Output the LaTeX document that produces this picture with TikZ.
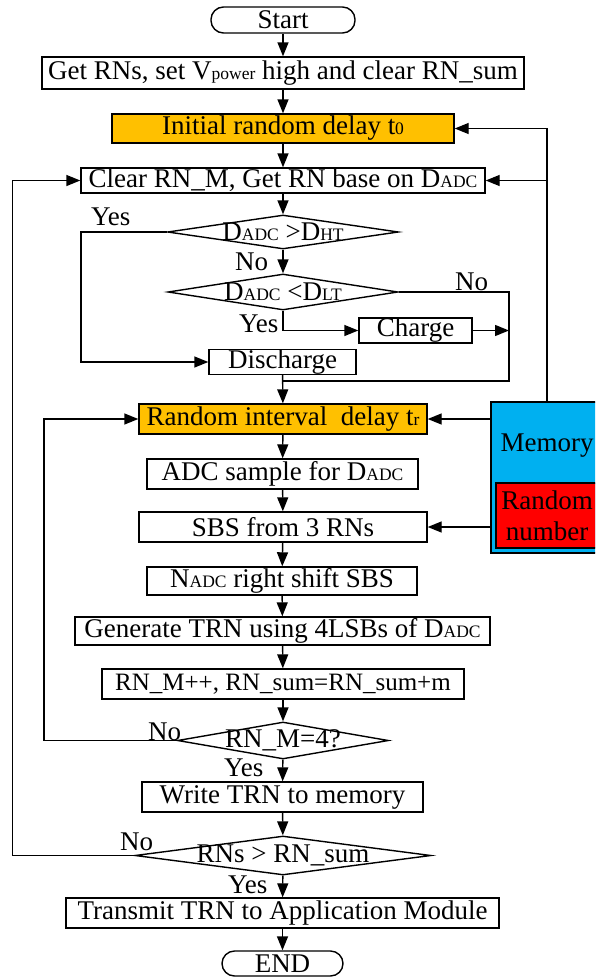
\documentclass[tikz,border=0pt]{standalone}
\usepackage{fontspec}
\setmainfont{Liberation Serif}
\usetikzlibrary{arrows.meta,shapes.geometric}

\definecolor{dlyorange}{HTML}{FFC000}
\definecolor{memblue}{HTML}{00B0F0}
\definecolor{rnred}{HTML}{FF0000}

\newcommand{\lowsc}[1]{{\fontsize{17.5}{17.5}\selectfont #1}}

\tikzset{
  proc/.style={draw, line width=1.4pt, inner sep=0pt, minimum height=30, align=center},
  term/.style={proc, rounded corners=12.5},
  decis/.style={draw, line width=1.4pt, diamond, inner sep=0pt},
  yesno/.style={inner sep=0pt, anchor=base west},
  flow/.style={line width=1.4pt, -{Triangle[length=14pt,width=11pt]}},
  wire/.style={line width=1.4pt}
}

\begin{document}
\begin{tikzpicture}[x=1pt, y=-1pt, font=\fontsize{27}{31}\selectfont]
  \path[use as bounding box, clip] (0,0) rectangle (595,977);

  % main column
  \node[term, minimum width=144, minimum height=26] (start) at (283,20) {Start};
  \node[proc, minimum width=482, minimum height=32] (getrn) at (283,73) {Get RNs, set V\lowsc{power} high and clear RN\_sum};
  \node[proc, fill=dlyorange, minimum width=342, minimum height=29] (initdly) at (283,128.5) {Initial random delay t\lowsc{0}};
  \node[proc, minimum width=404, minimum height=25] (clearm) at (283,180.5) {Clear RN\_M, Get RN base on D\lowsc{ADC}};
  \node[decis, minimum width=231, minimum height=34,
        label={[inner sep=0pt]center:D\lowsc{ADC} >D\lowsc{HT}}] (dec1) at (283,232) {};
  \node[decis, minimum width=230, minimum height=36,
        label={[inner sep=0pt]center:D\lowsc{ADC} <D\lowsc{LT}}] (dec2) at (283,292) {};
  \node[proc, minimum width=113, minimum height=25] (charge) at (415.5,330.5) {Charge};
  \node[proc, minimum width=147, minimum height=24] (dischg) at (282.5,362) {Discharge};
  \coordinate (jn) at (509,381);

  \node[proc, fill=dlyorange, minimum width=288] (rnddly) at (283,419) {Random interval~ delay t\lowsc{r}};
  \node[proc, minimum width=271] (adc) at (282.5,474) {ADC sample for D\lowsc{ADC}};
  \node[proc, minimum width=288] (sbs) at (283,527) {SBS from 3 RNs};
  \node[proc, minimum width=270, minimum height=28] (nshift) at (282,581) {N\lowsc{ADC} right shift SBS};
  \node[proc, minimum width=415, minimum height=28] (gentrn) at (282.5,631) {Generate TRN using 4LSBs of D\lowsc{ADC}};
  \node[proc, minimum width=362, font=\fontsize{25}{30}\selectfont] (rnmpp) at (283,684) {RN\_M++, RN\_sum=RN\_sum+m};
  \node[decis, minimum width=211, minimum height=37,
        label={[inner sep=0pt]center:RN\_M=4?}] (dec3) at (283,740.5) {};
  \node[proc, minimum width=281] (wrtrn) at (282.5,797) {Write TRN to memory};
  \node[decis, minimum width=296, minimum height=39,
        label={[inner sep=0pt]center:RNs > RN\_sum}] (dec4) at (283,855.5) {};
  \node[proc, minimum width=433] (trans) at (282.5,913) {Transmit TRN to Application Module};
  \node[term, minimum width=121, minimum height=25] (endn) at (282.5,963.5) {END};

  % memory block
  \node[proc, fill=memblue, minimum width=112, minimum height=151] (memory) at (547,477.5) {};
  \node[inner sep=0pt] (memtxt) at (547,446) {Memory};
  \node[proc, fill=rnred, minimum width=102, minimum height=65] (rndnum) at (547,515.5) {Random\\number};

  % yes / no labels
  \node[yesno] (y1) at (91,225) {Yes};
  \node[yesno] (n1) at (235,270) {No};
  \node[yesno] (n2) at (455,290) {No};
  \node[yesno] (y2) at (239,332) {Yes};
  \node[yesno] (n3) at (148,740) {No};
  \node[yesno] (y3) at (224,776) {Yes};
  \node[yesno] (n4) at (120,850) {No};
  \node[yesno] (y4) at (228,893) {Yes};

  % connectors
  \draw[flow] (start) -- (getrn);
  \draw[flow] (getrn) -- (initdly);
  \draw[flow] (initdly) -- (clearm);
  \draw[flow] (clearm) -- (dec1);
  \draw[flow] (dec1) -- (dec2);
  \draw[flow] (dec1.west) -- ++(-86,0) |- (dischg.west);
  \draw[flow] (dec2.south) |- (charge.west);
  \draw[flow] (charge.east) -- (charge.east -| jn);
  \draw[wire] (dec2.east) -| (jn) -- (jn -| dischg.south);
  \draw[flow] (dischg) -- (rnddly);
  \draw[flow] (rnddly) -- (adc);
  \draw[flow] (adc) -- (sbs);
  \draw[flow] (sbs) -- (nshift);
  \draw[flow] (nshift) -- (gentrn);
  \draw[flow] (gentrn) -- (rnmpp);
  \draw[flow] (rnmpp) -- (dec3);
  \draw[flow] (dec3.west) -- ++(-133,0) |- (rnddly.west);
  \draw[flow] (dec3) -- (wrtrn);
  \draw[flow] (wrtrn) -- (dec4);
  \draw[flow] (dec4.west) -- ++(-122,0) |- (clearm.west);
  \draw[flow] (dec4) -- (trans);
  \draw[flow] (trans) -- (endn);
  \draw[flow] (memory.north) |- (initdly.east);
  \draw[flow] (clearm.east -| memory.north) -- (clearm.east);
  \draw[flow] (rnddly.east -| memory.west) -- (rnddly.east);
  \draw[flow] (sbs.east -| memory.west) -- (sbs.east);
\end{tikzpicture}
\end{document}
